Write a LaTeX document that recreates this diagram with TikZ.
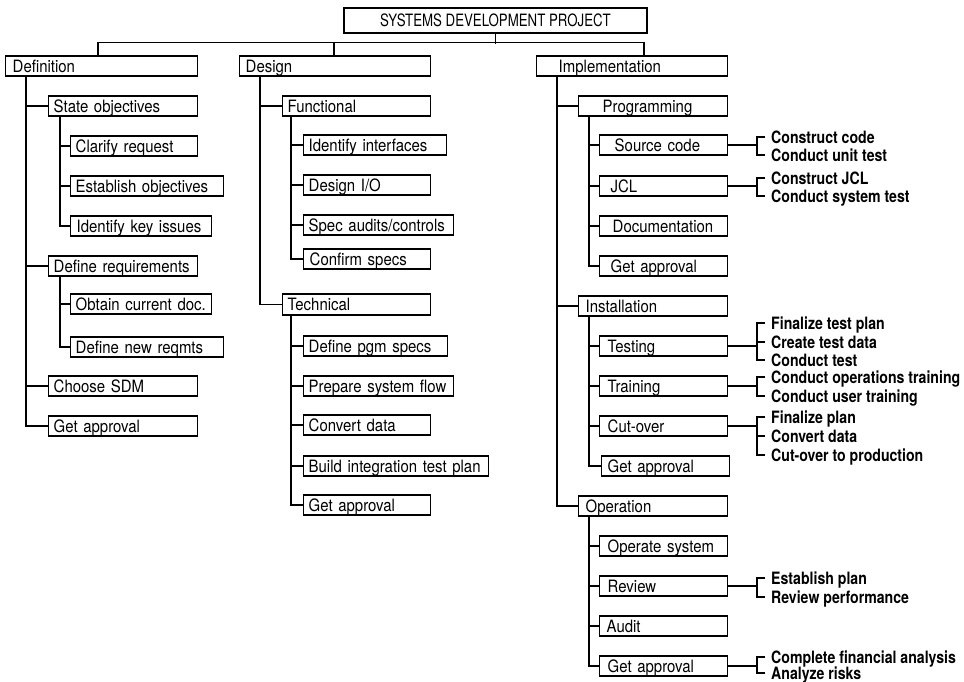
\documentclass[tikz,border=0pt]{standalone}
\usepackage{fontspec}
\setmainfont{TeX Gyre Heros}[FakeStretch=0.88]
\newfontfamily\topfont{TeX Gyre Heros}[FakeStretch=0.78]
\newfontfamily\bfont{TeX Gyre Heros}[FakeStretch=0.83]
\newcommand{\bx}[7]{%
  \pgfmathsetmacro\bxw{#4-#2}%
  \pgfmathsetmacro\bxh{#5-#3}%
  \pgfmathsetmacro\bxy{(#3+#5)/2}%
  \node[box, text width=\bxw pt, minimum height=\bxh pt, anchor=west] (#1) at (#2,\bxy) {\hspace*{#6pt}#7};}
\newcommand{\brtwo}[3]{% box, label1, label2
  \coordinate (#1-b) at ([xshift=-14pt]#2.west);
  \draw[ln] (#1.east) -- (#1.east -| #1-b);
  \draw[ln] ([xshift=-6pt]#2.west) -- ([xshift=-14pt]#2.west) -- ([xshift=-14pt]#3.west) -- ([xshift=-6pt]#3.west);}
\newcommand{\brthree}[4]{% box, label1, label2, label3
  \coordinate (#1-b) at ([xshift=-14pt]#2.west);
  \draw[ln] (#1.east) -- (#1.east -| #1-b);
  \draw[ln] ([xshift=-6pt]#2.west) -- ([xshift=-14pt]#2.west) -- ([xshift=-14pt]#4.west) -- ([xshift=-6pt]#4.west);
  \draw[ln] ([xshift=-6pt]#3.west) -- ([xshift=-14pt]#3.west);}
\begin{document}
\begin{tikzpicture}[x=1pt,y=-1pt,
  box/.style={draw, line width=1.4pt, inner xsep=0pt, inner ysep=0pt, align=left,
    text height=14.5pt, text depth=2.3pt, font=\fontsize{17}{19}\selectfont},
  ln/.style={line width=1.4pt},
  lbl/.style={anchor=west, inner sep=0pt, text height=12.2pt, text depth=0pt,
    font=\bfont\bfseries\fontsize{17}{19}\selectfont}]
\useasboundingbox (0,0) rectangle (964,681);
% top
\node[draw, line width=1.4pt, minimum width=303pt, minimum height=25pt, inner sep=0pt,
  text height=14.5pt, text depth=2.3pt,
  font=\topfont\fontsize{17}{19}\selectfont] (top) at (495.5,20.5) {SYSTEMS DEVELOPMENT PROJECT};
% Definition column
\bx{def}{5}{56}{197}{76}{7}{Definition}
\bx{dso}{48}{96}{197}{116}{5}{State objectives}
\bx{dcr}{70}{136}{197}{156}{5}{Clarify request}
\bx{deo}{70}{176}{223}{196}{5}{Establish objectives}
\bx{dki}{70}{216}{211}{236}{6}{Identify key issues}
\bx{ddr}{48}{256}{197}{276}{5}{Define requirements}
\bx{dcd}{70}{294}{211}{314}{5}{Obtain current doc.}
\bx{dnr}{70}{337}{223}{357}{5}{Define new reqmts}
\bx{dsdm}{48}{376}{197}{396}{5}{Choose SDM}
\bx{dga}{48}{416}{197}{436}{5}{Get approval}
% Design column
\bx{des}{239}{56}{430}{76}{6}{Design}
\bx{dfn}{282}{96}{430}{116}{5}{Functional}
\bx{dii}{303}{135}{446}{155}{5}{Identify interfaces}
\bx{dio}{303}{175}{430}{195}{5}{Design I/O}
\bx{dsa}{303}{215}{453}{235}{5}{Spec audits/controls}
\bx{dcs}{303}{249}{430}{269}{6}{Confirm specs}
\bx{dtc}{282}{294}{430}{315}{5}{Technical}
\bx{dps}{303}{336}{447}{356}{5}{Define pgm specs}
\bx{dsf}{303}{376}{453}{396}{5}{Prepare system flow}
\bx{dcv}{303}{415}{430}{435}{5}{Convert data}
\bx{dbi}{303}{456}{488}{476}{5}{Build integration test plan}
\bx{dtga}{303}{495}{430}{515}{5}{Get approval}
% Implementation column
\bx{imp}{536}{56}{727}{76}{22}{Implementation}
\bx{ipg}{578}{96}{727}{116}{24}{Programming}
\bx{isc}{599}{135}{727}{155}{15}{Source code}
\bx{ijcl}{599}{176}{727}{196}{11}{JCL}
\bx{idoc}{599}{216}{727}{236}{13}{Documentation}
\bx{ipga}{599}{256}{727}{276}{11}{Get approval}
\bx{ins}{578}{296}{727}{316}{7}{Installation}
\bx{its}{599}{336}{727}{356}{8}{Testing}
\bx{itr}{599}{376}{727}{396}{8}{Training}
\bx{ico}{599}{416}{727}{436}{8}{Cut-over}
\bx{iiga}{601}{456}{729}{476}{6}{Get approval}
\bx{iop}{578}{496}{727}{516}{7}{Operation}
\bx{ios}{599}{536}{727}{556}{8}{Operate system}
\bx{irv}{599}{576}{727}{596}{8}{Review}
\bx{iau}{599}{616}{727}{636}{7}{Audit}
\bx{iga}{599}{656}{727}{676}{8}{Get approval}
% top connectors
\draw[ln] (top.south) -- ++(0,10);
\draw[ln] ([xshift=93pt]def.north west) -- ++(0,-13) -| ([xshift=108pt]imp.north west);
\draw[ln] ([xshift=95pt]des.north west) -- ++(0,-13);
% Definition tree
\foreach \c in {dso,ddr,dsdm,dga} \draw[ln] ([xshift=21pt]def.south west) |- (\c.west);
\foreach \c in {dcr,deo,dki} \draw[ln] ([xshift=12pt]dso.south west) |- (\c.west);
\foreach \c in {dcd,dnr} \draw[ln] ([xshift=12pt]ddr.south west) |- (\c.west);
% Design tree
\foreach \c in {dfn,dtc} \draw[ln] ([xshift=21pt]des.south west) |- (\c.west);
\foreach \c in {dii,dio,dsa,dcs} \draw[ln] ([xshift=9pt]dfn.south west) |- (\c.west);
\foreach \c in {dps,dsf,dcv,dbi,dtga} \draw[ln] ([xshift=9pt]dtc.south west) |- (\c.west);
% Implementation tree
\foreach \c in {ipg,ins,iop} \draw[ln] ([xshift=21pt]imp.south west) |- (\c.west);
\foreach \c in {isc,ijcl,idoc,ipga} \draw[ln] ([xshift=11pt]ipg.south west) |- (\c.west);
\foreach \c in {its,itr,ico,iiga} \draw[ln] ([xshift=11pt]ins.south west) |- (\c.west);
\foreach \c in {ios,irv,iau,iga} \draw[ln] ([xshift=11pt]iop.south west) |- (\c.west);
% bold task lists
\node[lbl] (sc1) at (771,137) {Construct code};
\node[lbl] (sc2) at (771,155) {Conduct unit test};
\brtwo{isc}{sc1}{sc2}
\node[lbl] (jc1) at (771,178) {Construct JCL};
\node[lbl] (jc2) at (771,196) {Conduct system test};
\brtwo{ijcl}{jc1}{jc2}
\node[lbl] (ts1) at (771,323) {Finalize test plan};
\node[lbl] (ts2) at (771,342) {Create test data};
\node[lbl] (ts3) at (771,360) {Conduct test};
\brthree{its}{ts1}{ts2}{ts3}
\node[lbl] (tr1) at (771,377) {Conduct operations training};
\node[lbl] (tr2) at (771,396) {Conduct user training};
\brtwo{itr}{tr1}{tr2}
\node[lbl] (co1) at (771,417) {Finalize plan};
\node[lbl] (co2) at (771,436) {Convert data};
\node[lbl] (co3) at (771,455) {Cut-over to production};
\brthree{ico}{co1}{co2}{co3}
\node[lbl] (rv1) at (771,578) {Establish plan};
\node[lbl] (rv2) at (771,597) {Review performance};
\brtwo{irv}{rv1}{rv2}
\node[lbl] (ga1) at (771,657) {Complete financial analysis};
\node[lbl] (ga2) at (771,673) {Analyze risks};
\brtwo{iga}{ga1}{ga2}
\end{tikzpicture}
\end{document}
